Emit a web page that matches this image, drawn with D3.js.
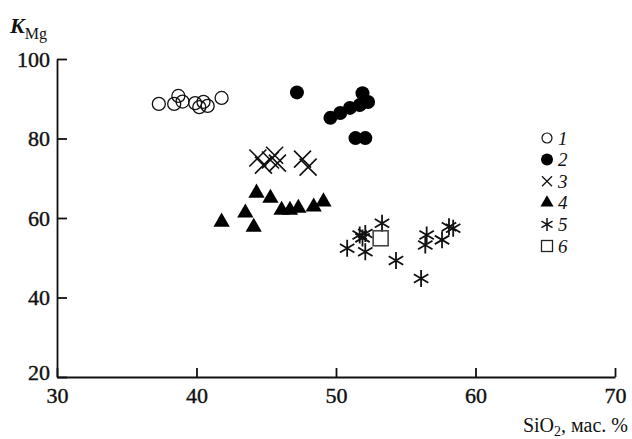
<!DOCTYPE html>
<html>
<head>
<meta charset="utf-8">
<script src="https://cdn.jsdelivr.net/npm/d3@7"></script>
<style>
    body { margin: 0; background: #fff; }
    svg { display: block; }
    text { font-family: "Liberation Serif", "DejaVu Serif", serif; fill: #111; }
</style>
</head>
<body>
<div id="chart"></div>
<script>
// values: SiO2 (wt %) and K_Mg for each group
const openCircleSiO2 = [37.3, 38.4, 38.7, 39.0, 39.9, 40.2, 40.5, 40.8, 41.8];
const openCircleKMg = [88.7, 88.7, 90.7, 89.3, 88.9, 87.9, 89.2, 88.2, 90.2];

const filledCircleSiO2 = [47.2, 49.6, 50.3, 51.0, 51.7, 51.9, 52.3, 51.4, 52.1];
const filledCircleKMg = [91.6, 85.2, 86.4, 87.7, 88.4, 91.4, 89.2, 80.1, 80.1];

const crossSiO2 = [44.4, 44.8, 45.3, 45.6, 45.8, 47.6, 48.0];
const crossKMg = [75.1, 73.3, 74.6, 75.8, 73.8, 74.8, 72.8];

const triangleSiO2 = [41.8, 43.5, 44.1, 44.3, 45.3, 46.1, 46.7, 47.3, 48.4, 49.1];
const triangleKMg = [59.0, 61.3, 57.7, 66.3, 65.0, 62.0, 62.0, 62.5, 62.8, 64.1];

const asteriskSiO2 = [50.8, 51.7, 52.1, 51.9, 52.1, 53.3, 54.3, 56.1, 56.5, 56.4, 57.6, 58.1, 58.4];
const asteriskKMg = [52.4, 55.7, 56.1, 55.0, 51.5, 58.7, 49.3, 44.8, 55.7, 53.2, 54.5, 57.8, 57.4];

const squareSiO2 = [53.2];
const squareKMg = [54.9];

const legendLabels = ["1", "2", "3", "4", "5", "6"];
const xTicks = [30, 40, 50, 60, 70];
const yTicks = [20, 40, 60, 80, 100];

const chartWidth = 632, chartHeight = 439;
const plotLeft = 57, plotRight = 615, plotTop = 59, plotBottom = 377;

let svg = d3.select("#chart")
    .append("svg")
    .attr("width", chartWidth)
    .attr("height", chartHeight);

let x = d3.scaleLinear().domain([30, 70]).range([plotLeft, plotRight]);
let y = d3.scaleLinear().domain([20, 100]).range([plotBottom, plotTop]);

function zip(xs, ys) {
    return xs.map(function (v, i) { return [v, ys[i]]; });
}

// marker path builders, centred on 0,0
function crossPath(r) {
    return "M" + -r + "," + -r + "L" + r + "," + r + "M" + -r + "," + r + "L" + r + "," + -r;
}
function asteriskPath(r) {
    let dx = r * 0.85, dy = r * 0.5;
    return "M0," + -r + "L0," + r +
        "M" + -dx + "," + -dy + "L" + dx + "," + dy +
        "M" + -dx + "," + dy + "L" + dx + "," + -dy;
}

// axes (ticks point inward)
let yAxis = svg.append("g")
    .attr("transform", "translate(" + plotLeft + ",0)")
    .call(d3.axisLeft(y).tickValues(yTicks).tickSizeInner(-10).tickSizeOuter(0).tickPadding(7));
let xAxis = svg.append("g")
    .attr("transform", "translate(0," + plotBottom + ")")
    .call(d3.axisBottom(x).tickValues(xTicks).tickSizeInner(-9).tickSizeOuter(0).tickPadding(10));

[xAxis, yAxis].forEach(function (a) {
    a.selectAll("path,line").attr("stroke", "#111").attr("stroke-width", 1.8);
    a.selectAll("text")
        .attr("font-size", 22)
        .attr("font-family", "Liberation Serif")
        .attr("fill", "#111")
        .attr("stroke", "#111")
        .attr("stroke-width", 0.4);
});
yAxis.select(".tick:first-of-type text").attr("dy", "0.1em");

// axis titles
let yTitle = svg.append("text").attr("x", 10).attr("y", 33).attr("font-size", 22);
yTitle.append("tspan").attr("font-style", "italic").attr("font-weight", "bold").text("K");
yTitle.append("tspan").attr("font-size", 16).attr("dy", 6).text("Mg");

let xTitle = svg.append("text").attr("x", 628).attr("y", 432)
    .attr("text-anchor", "end").attr("font-size", 20);
xTitle.append("tspan").text("SiO");
xTitle.append("tspan").attr("font-size", 14).attr("dy", 4).text("2");
xTitle.append("tspan").attr("dy", -4).text(", мас. %");

let plot = svg.append("g");

// 1: open circles
plot.selectAll(".open")
    .data(zip(openCircleSiO2, openCircleKMg))
    .enter().append("circle")
    .attr("cx", function (d) { return x(d[0]); })
    .attr("cy", function (d) { return y(d[1]); })
    .attr("r", 6.5)
    .attr("fill", "none")
    .attr("stroke", "#111")
    .attr("stroke-width", 1.3);

// 2: filled circles
plot.selectAll(".filled")
    .data(zip(filledCircleSiO2, filledCircleKMg))
    .enter().append("circle")
    .attr("cx", function (d) { return x(d[0]); })
    .attr("cy", function (d) { return y(d[1]); })
    .attr("r", 7)
    .attr("fill", "#000");

// 3: crosses
plot.selectAll(".cross")
    .data(zip(crossSiO2, crossKMg))
    .enter().append("path")
    .attr("transform", function (d) { return "translate(" + x(d[0]) + "," + y(d[1]) + ")"; })
    .attr("d", crossPath(8.5))
    .attr("stroke", "#111")
    .attr("stroke-width", 1.6);

// 4: filled triangles
plot.selectAll(".tri")
    .data(zip(triangleSiO2, triangleKMg))
    .enter().append("path")
    .attr("transform", function (d) { return "translate(" + x(d[0]) + "," + y(d[1]) + ")"; })
    .attr("d", d3.symbol(d3.symbolTriangle, 115))
    .attr("fill", "#000");

// 5: asterisks
plot.selectAll(".ast")
    .data(zip(asteriskSiO2, asteriskKMg))
    .enter().append("path")
    .attr("transform", function (d) { return "translate(" + x(d[0]) + "," + y(d[1]) + ")"; })
    .attr("d", asteriskPath(8.5))
    .attr("stroke", "#111")
    .attr("stroke-width", 1.8);

// 6: open square
plot.selectAll(".sq")
    .data(zip(squareSiO2, squareKMg))
    .enter().append("rect")
    .attr("x", function (d) { return x(d[0]) - 7.5; })
    .attr("y", function (d) { return y(d[1]) - 7.5; })
    .attr("width", 15)
    .attr("height", 15)
    .attr("fill", "none")
    .attr("stroke", "#444")
    .attr("stroke-width", 1.6);

// legend
let legendY = d3.scalePoint().domain(legendLabels).range([138, 246]);
let legend = svg.append("g").attr("transform", "translate(547,0)");
let markers = [
    function (g) { g.append("circle").attr("r", 5).attr("fill", "none").attr("stroke", "#111").attr("stroke-width", 1.2); },
    function (g) { g.append("circle").attr("r", 6).attr("fill", "#000"); },
    function (g) { g.append("path").attr("d", crossPath(5)).attr("stroke", "#111").attr("stroke-width", 1.3); },
    function (g) { g.append("path").attr("d", d3.symbol(d3.symbolTriangle, 75)).attr("fill", "#000"); },
    function (g) { g.append("path").attr("d", asteriskPath(6.5)).attr("stroke", "#111").attr("stroke-width", 1.5); },
    function (g) { g.append("rect").attr("x", -5.5).attr("y", -5.5).attr("width", 11).attr("height", 11).attr("fill", "none").attr("stroke", "#222").attr("stroke-width", 1.3); }
];
legendLabels.forEach(function (label, i) {
    let row = legend.append("g").attr("transform", "translate(0," + legendY(label) + ")");
    markers[i](row);
    row.append("text")
        .attr("x", 11)
        .attr("dy", "0.35em")
        .attr("font-size", 19)
        .attr("font-style", "italic")
        .text(label);
});
</script>
</body>
</html>
